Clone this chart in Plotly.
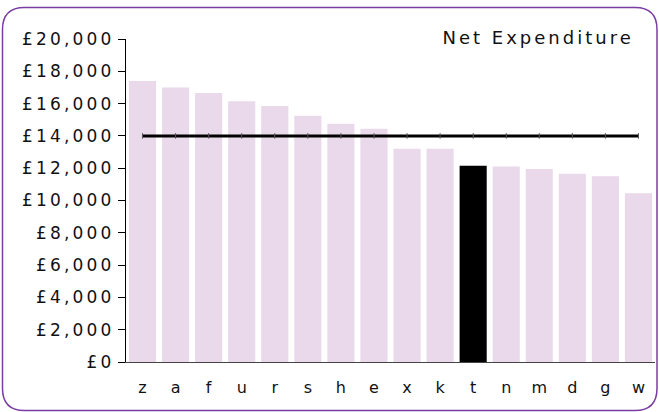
import plotly.graph_objects as go

# Net expenditure per area, sorted high to low
categories = ["z", "a", "f", "u", "r", "s", "h", "e", "x", "k", "t", "n", "m", "d", "g", "w"]
expenditure = [17400, 17000, 16650, 16150, 15850, 15250, 14750, 14450,
               13200, 13200, 12150, 12100, 11950, 11650, 11500, 10450]
highlighted = "t"
benchmark = [14000] * len(categories)
y_ticks = list(range(0, 20001, 2000))
y_tick_labels = ["£0", "£2,000", "£4,000", "£6,000", "£8,000", "£10,000",
                 "£12,000", "£14,000", "£16,000", "£18,000", "£20,000"]

BAR = "#EAD9EB"
HIGHLIGHT = "#000000"
BORDER = "#7A3DA3"
FONT = "DejaVu Sans"

W, H = 659, 412
L, R, T, B = 126, 655, 39, 362  # plot area in pixels


def px(x):
    return (x - L) / (R - L)


def py(y):
    return (B - y) / (B - T)


fig = go.Figure()
fig.add_trace(go.Bar(
    x=categories,
    y=expenditure,
    marker=dict(color=[HIGHLIGHT if c == highlighted else BAR for c in categories],
                line=dict(width=0)),
    showlegend=False,
    hoverinfo="x+y",
))
fig.add_trace(go.Scatter(
    x=categories,
    y=benchmark,
    mode="lines+markers",
    line=dict(color="#000000", width=3),
    marker=dict(symbol="line-ns-open", size=4, color="#555555", line=dict(width=1, color="#555555")),
    showlegend=False,
))

# rounded frame around the whole chart
bl, br, bt, bb, r = 2.5, 657, 7.5, 410.5, 22
path = (
    f"M {px(bl + r)} {py(bt)} L {px(br - r)} {py(bt)} "
    f"Q {px(br)} {py(bt)} {px(br)} {py(bt + r)} L {px(br)} {py(bb - r)} "
    f"Q {px(br)} {py(bb)} {px(br - r)} {py(bb)} L {px(bl + r)} {py(bb)} "
    f"Q {px(bl)} {py(bb)} {px(bl)} {py(bb - r)} L {px(bl)} {py(bt + r)} "
    f"Q {px(bl)} {py(bt)} {px(bl + r)} {py(bt)} Z"
)
fig.add_shape(type="path", path=path, xref="paper", yref="paper",
              line=dict(color=BORDER, width=1.5), fillcolor="rgba(0,0,0,0)", layer="above")

fig.add_annotation(
    text="Net Expenditure", x=px(538), y=py(37.5), xref="paper", yref="paper",
    xanchor="center", yanchor="middle", showarrow=False,
    font=dict(family=FONT, size=18, color="#111111"),
)

fig.update_layout(
    width=W, height=H,
    margin=dict(l=L, r=W - R, t=T, b=H - B),
    paper_bgcolor="white", plot_bgcolor="white",
    bargap=0.18,
    font=dict(family=FONT, size=17, color="#111111"),
    xaxis=dict(
        range=[-0.5, len(categories) - 0.5],
        showgrid=False, zeroline=False, showline=True, linecolor="#444444", linewidth=1,
        ticks="", tickfont=dict(size=16), ticklabelstandoff=11,
    ),
    yaxis=dict(
        range=[0, 20000], tickvals=y_ticks, ticktext=y_tick_labels,
        showgrid=False, zeroline=False, showline=True, linecolor="#000000", linewidth=1,
        ticks="outside", ticklen=7, tickcolor="#000000", ticklabelstandoff=0,
    ),
)

spacing_js = (
    "document.querySelectorAll('.ytick text').forEach(function(t){t.style.letterSpacing='3.2px';});"
    "document.querySelectorAll('.annotation-text').forEach(function(t){t.style.letterSpacing='3px';});"
)
fig.write_html("out.html", post_script=spacing_js)
